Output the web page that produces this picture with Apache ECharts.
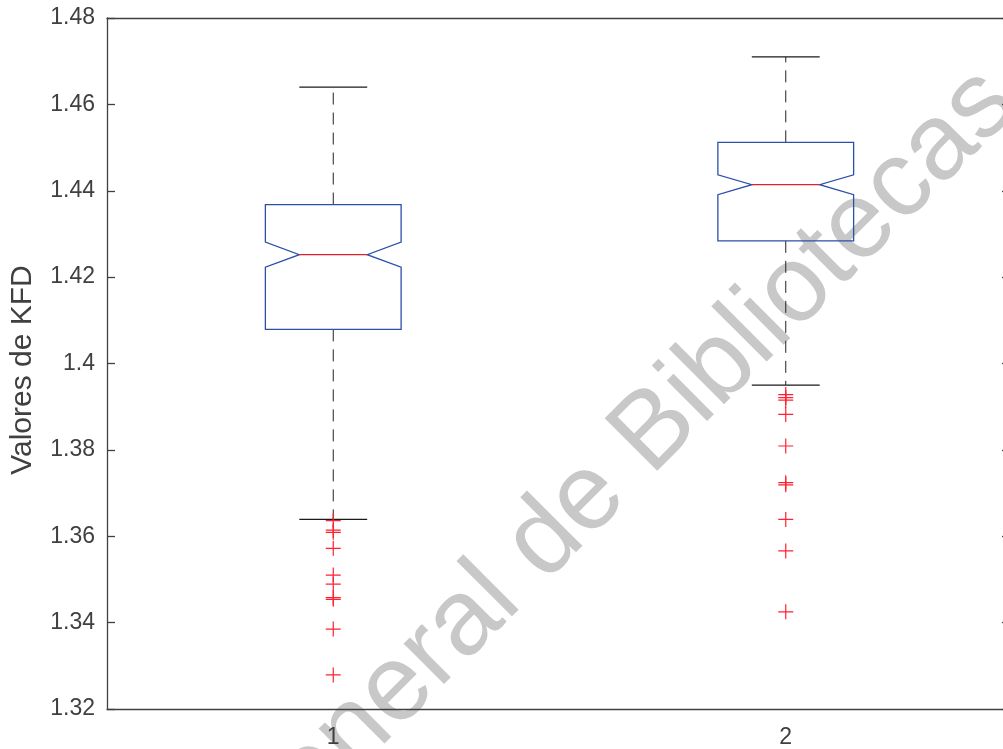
<!DOCTYPE html>
<html>
<head>
<meta charset="utf-8">
<script src="https://cdn.jsdelivr.net/npm/echarts@6/dist/echarts.min.js"></script>
<style>
  html, body { margin: 0; padding: 0; background: #fff; overflow: hidden; }
  #chart { width: 1020px; height: 749px; }
</style>
</head>
<body>
<div id="chart"></div>
<script>
// Groups on the x axis
const categories = ['1', '2'];

// Box statistics per group
const q1 = [1.4079, 1.4284];
const q3 = [1.4368, 1.4512];
const medians = [1.4252, 1.4414];
const notchLow = [1.4223, 1.4391];
const notchHigh = [1.4281, 1.4437];
const whiskerLow = [1.3639, 1.3950];
const whiskerHigh = [1.4640, 1.4710];

// Outliers per group
const outliers1 = [1.3636, 1.3614, 1.3609, 1.3572, 1.3510, 1.3489, 1.3458, 1.3454, 1.3385, 1.3279];
const outliers2 = [1.3928, 1.3921, 1.3915, 1.3882, 1.3809, 1.3724, 1.3719, 1.3639, 1.3566, 1.3425];

// Y axis range and tick step
const yMin = 1.32;
const yMax = 1.48;
const yStep = 0.02;

const yTitle = 'Valores de KFD';

const boxRows = categories.map((c, i) => [
  i, whiskerLow[i], q1[i], notchLow[i], medians[i], notchHigh[i], q3[i], whiskerHigh[i]
]);
const outlierPoints = [];
outliers1.forEach(v => outlierPoints.push([0, v]));
outliers2.forEach(v => outlierPoints.push([1, v]));

const axisColor = '#404040';
const boxColor = '#2b50aa';
const medianColor = '#e0202a';
const outlierColor = '#ff2030';
const font = '"Liberation Sans", Arial, Helvetica, sans-serif';

function renderBox(params, api) {
  const i = api.value(0);
  const band = api.size([1, 0])[0];
  const w = band * 0.15;      // half box width
  const cw = w * 0.5;         // half cap width / notch depth
  const x = api.coord([i, 0])[0];
  const y = idx => api.coord([i, api.value(idx)])[1];
  const yWl = y(1), yQ1 = y(2), yNl = y(3), yMed = y(4), yNh = y(5), yQ3 = y(6), yWh = y(7);
  const dash = { stroke: '#222', lineWidth: 1, lineDash: [12, 8], fill: null };
  const solid = { stroke: '#1a1a1a', lineWidth: 1.2, fill: null };
  return {
    type: 'group',
    children: [
      { type: 'line', shape: { x1: x, y1: yQ3, x2: x, y2: yWh }, style: dash },
      { type: 'line', shape: { x1: x, y1: yQ1, x2: x, y2: yWl }, style: dash },
      { type: 'line', shape: { x1: x - cw, y1: yWh, x2: x + cw, y2: yWh }, style: solid },
      { type: 'line', shape: { x1: x - cw, y1: yWl, x2: x + cw, y2: yWl }, style: solid },
      {
        type: 'polygon',
        shape: {
          points: [
            [x - w, yQ3], [x + w, yQ3], [x + w, yNh], [x + cw, yMed], [x + w, yNl],
            [x + w, yQ1], [x - w, yQ1], [x - w, yNl], [x - cw, yMed], [x - w, yNh]
          ]
        },
        style: { stroke: boxColor, lineWidth: 1.3, fill: null }
      },
      { type: 'line', shape: { x1: x - cw, y1: yMed, x2: x + cw, y2: yMed },
        style: { stroke: medianColor, lineWidth: 1.3 } }
    ]
  };
}

const chart = echarts.init(document.getElementById('chart'), null, { renderer: 'canvas' });

const deg = Math.PI / 180;
const wmAngle = 45 * deg;
const wmX = 630, wmY = 456;
const wmStyle = { fill: '#c8c8c8', font: '108px ' + font, textVerticalAlign: 'middle' };

chart.setOption({
  animation: false,
  backgroundColor: '#fff',
  grid: { left: 107, top: 18, width: 905, height: 692, containLabel: false },
  xAxis: [
    {
      type: 'category',
      data: categories,
      boundaryGap: true,
      axisLine: { lineStyle: { color: axisColor, width: 1.3 } },
      axisTick: { inside: true, length: 9, alignWithLabel: true, lineStyle: { color: axisColor, width: 1.3 } },
      axisLabel: { color: axisColor, fontSize: 23, fontFamily: font, margin: 17 },
      splitLine: { show: false }
    },
    {
      type: 'category',
      data: categories,
      position: 'top',
      boundaryGap: true,
      axisLine: { lineStyle: { color: axisColor, width: 1.3 } },
      axisTick: { inside: true, length: 9, alignWithLabel: true, lineStyle: { color: axisColor, width: 1.3 } },
      axisLabel: { show: false },
      splitLine: { show: false }
    }
  ],
  yAxis: [
    {
      type: 'value',
      min: yMin, max: yMax, interval: yStep,
      axisLine: { show: true, lineStyle: { color: axisColor, width: 1.3 } },
      axisTick: { show: true, inside: true, length: 8, lineStyle: { color: axisColor, width: 1.3 } },
      axisLabel: {
        color: axisColor, fontSize: 23, fontFamily: font, margin: 12,
        formatter: v => String(+v.toFixed(2))
      },
      splitLine: { show: false }
    },
    {
      type: 'value',
      position: 'right',
      min: yMin, max: yMax, interval: yStep,
      axisLine: { show: true, lineStyle: { color: axisColor, width: 1.3 } },
      axisTick: { show: true, inside: true, length: 10, lineStyle: { color: axisColor, width: 1.3 } },
      axisLabel: { show: false },
      splitLine: { show: false }
    }
  ],
  series: [
    {
      type: 'custom',
      renderItem: renderBox,
      data: boxRows,
      encode: { x: 0, y: [1, 2, 3, 4, 5, 6, 7] },
      z: 3,
      silent: true
    },
    {
      type: 'scatter',
      data: outlierPoints,
      symbol: 'path://M7,0L7,14M0,7L14,7',
      symbolSize: 15,
      itemStyle: { color: 'rgba(0,0,0,0)', borderColor: outlierColor, borderWidth: 1.2, opacity: 1 },
      z: 4,
      silent: true
    }
  ],
  graphic: [
    {
      type: 'text',
      x: 23, y: 370,
      rotation: Math.PI / 2,
      style: {
        text: yTitle, fill: axisColor, font: '30px ' + font,
        textAlign: 'center', textVerticalAlign: 'middle'
      }
    },
    {
      type: 'group',
      z: -10,
      silent: true,
      children: [
        {
          type: 'text', x: wmX, y: wmY, rotation: wmAngle, z: -10,
          style: Object.assign({ text: 'Dirección General de ', textAlign: 'right' }, wmStyle)
        },
        {
          type: 'text', x: wmX, y: wmY, rotation: wmAngle, z: -10,
          style: Object.assign({ text: 'Bibliotecas', textAlign: 'left' }, wmStyle)
        }
      ]
    }
  ]
});
</script>
</body>
</html>
